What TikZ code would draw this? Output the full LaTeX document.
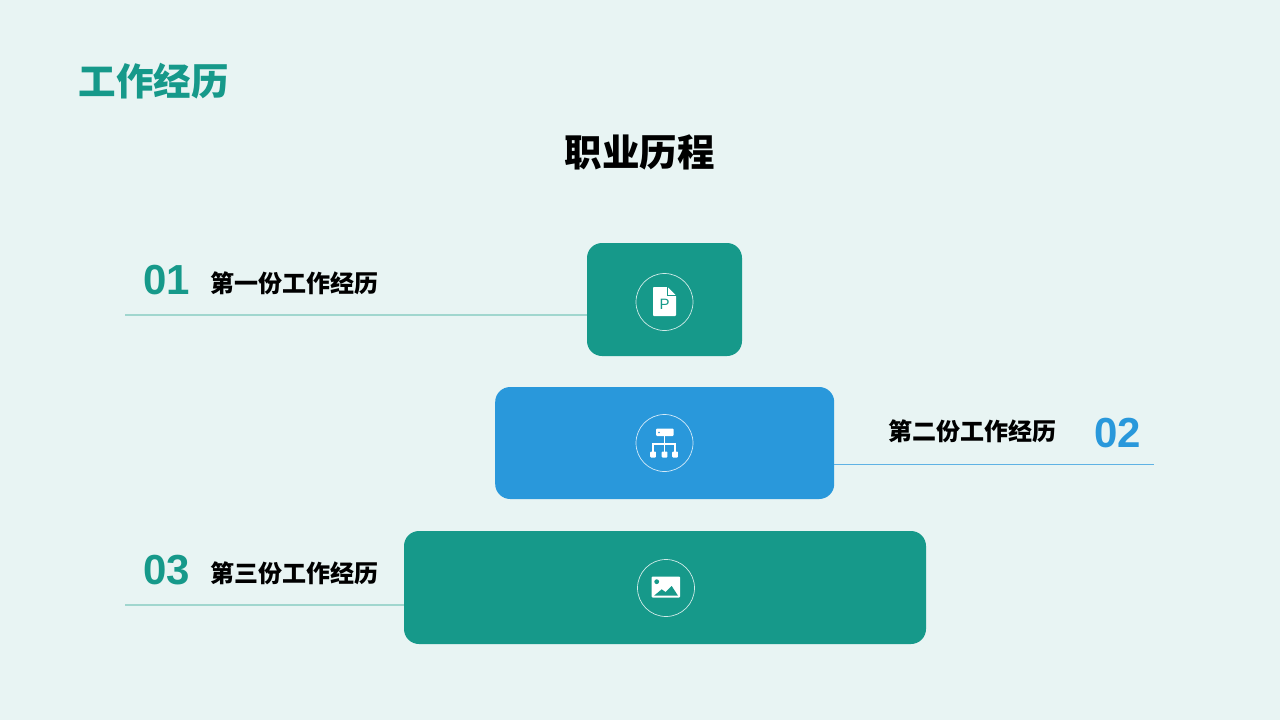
\documentclass[tikz,border=0pt]{standalone}
\usepackage{fontspec}
\usepackage{xcolor}
\setmainfont{Liberation Sans}
\newfontfamily\cjk{Noto Sans CJK SC}
\definecolor{bgmint}{HTML}{E8F4F3}
\definecolor{tealbox}{HTML}{16998A}
\definecolor{bluebox}{HTML}{2998DB}
\definecolor{tealline}{HTML}{A0D6CE}
\definecolor{blueline}{HTML}{5FB2E4}
\tikzset{
  stepbox/.style={inner sep=0pt, rounded corners=15pt},
  ring/.style={circle, inner sep=0pt, minimum size=57pt, draw=white!80!tealbox, line width=0.7pt},
  jobtext/.style={inner sep=0pt, font=\cjk\bfseries\fontsize{24}{24}\selectfont},
  numtext/.style={inner sep=0pt, font=\bfseries\fontsize{42}{42}\selectfont}
}

\begin{document}
\begin{tikzpicture}[x=1pt, y=-1pt]
  \useasboundingbox[fill=bgmint] (0,0) rectangle (1280,720);
  \node[inner sep=0pt, text=tealbox, font=\cjk\bfseries\fontsize{37.5}{37.5}\selectfont](heading) at (153.5,81.5){工作经历};
  \node[inner sep=0pt, font=\cjk\bfseries\fontsize{37.5}{37.5}\selectfont](title) at (639.5,152){职业历程};

  \node[stepbox, fill=tealbox, minimum width=155pt, minimum height=113pt](boxa) at (664.5,299.5){};
  \node[stepbox, fill=bluebox, minimum width=339pt, minimum height=112pt](boxb) at (664.7,443){};
  \node[stepbox, fill=tealbox, minimum width=522pt, minimum height=113pt](boxc) at (665,587.5){};

  \coordinate(linea) at (125,315);
  \coordinate(lineb) at (1153.5,464.5);
  \coordinate(linec) at (125,605);
  \draw[tealline, line width=1.4pt] (linea) -- (linea -| boxa.west);
  \draw[blueline, line width=1.1pt] (lineb) -- (lineb -| boxb.east);
  \draw[tealline, line width=1.4pt] (linec) -- (linec -| boxc.west);

  \node[numtext, text=tealbox](numa) at (166.5,280){01};
  \node[numtext, text=bluebox](numb) at (1117.5,433.5){02};
  \node[numtext, text=tealbox](numc) at (166.5,570){03};
  \node[jobtext](joba) at (294,283){第一份工作经历};
  \node[jobtext](jobb) at (972.5,431){第二份工作经历};
  \node[jobtext](jobc) at (294,573){第三份工作经历};

  \node[ring](ringa) at (664.5,302){};
  \node[ring, draw=white!80!bluebox](ringb) at (664.5,443){};
  \node[ring](ringc) at (666,588){};

  % page icon
  \fill[white, rounded corners=0.8pt] (653,287) -- (667.5,287) -- (676,295.5) -- (676,316) -- (653,316) -- cycle;
  \draw[tealbox, line width=0.7pt] (667.5,286.5) -- (667.5,295.5) -- (676.5,295.5);
  \node[inner sep=0pt, text=tealbox, font=\fontsize{15}{15}\selectfont](pagep) at (664.5,304.5){P};

  % chart icon
  \fill[white, rounded corners=1pt] (656,428.5) rectangle (673.5,436);
  \fill[bluebox] (659,432.5) circle (0.9);
  \draw[white, line width=1.2pt] (664.7,436) -- (664.7,452) (653,452) -- (653,444) -- (675,444) -- (675,452);
  \foreach \xpos in {653,664.5,675}
    \fill[white, rounded corners=0.8pt] (\xpos-2.8,451.5) rectangle (\xpos+2.8,457.5);

  % image icon
  \fill[white, rounded corners=0.8pt] (651.7,576.7) rectangle (680,597.5);
  \fill[tealbox] (656.7,581.7) circle (2.4);
  \fill[tealbox] (654,595.7) -- (661.7,589.3) -- (665.5,592) -- (671.7,586) -- (678,595.7) -- cycle;
\end{tikzpicture}
\end{document}
